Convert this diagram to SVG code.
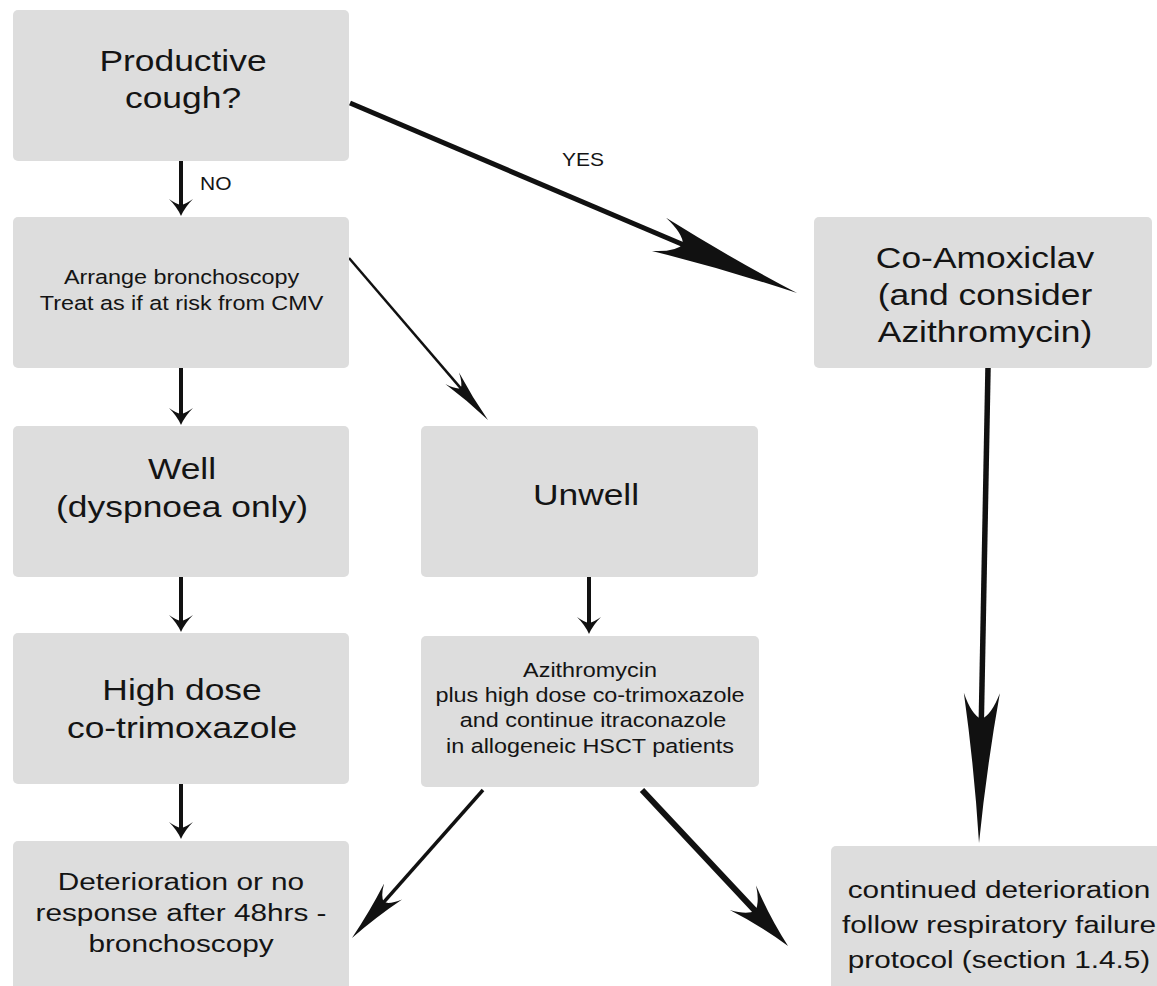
<svg xmlns="http://www.w3.org/2000/svg" width="1157" height="986" viewBox="0 0 1157 986">
<style>
.box{fill:#dddddd}
.t{font-family:"Liberation Sans",Arial,Helvetica,sans-serif;fill:#141414;text-anchor:middle}
.big{font-size:29.5px}
.med{font-size:24.8px}
.sm{font-size:19.5px}
.lbl{font-family:"Liberation Sans",Arial,Helvetica,sans-serif;fill:#141414;font-size:17.5px}
.c{stroke:#111;fill:none;stroke-linecap:butt}
.head{fill:#111}
</style>
<defs>
<marker id="m-small" markerUnits="userSpaceOnUse" orient="auto" refX="3" refY="0" markerWidth="30" markerHeight="30" overflow="visible">
<path class="head" d="M11,0 Q2,4 -6,12 Q-1,5 0,0 Q-1,-5 -6,-12 Q2,-4 11,0 Z"/>
</marker>
<marker id="m-long" markerUnits="userSpaceOnUse" orient="auto" refX="3" refY="0" markerWidth="160" markerHeight="40" overflow="visible">
<path class="head" d="M124,0 Q50,6 -26,18 Q-4,10 0,0 Q-4,-10 -26,-18 Q50,-6 124,0 Z"/>
</marker>
<marker id="m-medthick" markerUnits="userSpaceOnUse" orient="auto" refX="3" refY="0" markerWidth="80" markerHeight="40" overflow="visible">
<path class="head" d="M48,0 Q15,6 -18,18 Q-3,9 0,0 Q-3,-9 -18,-18 Q15,-6 48,0 Z"/>
</marker>
<marker id="m-medthin" markerUnits="userSpaceOnUse" orient="auto" refX="3" refY="0" markerWidth="80" markerHeight="30" overflow="visible">
<path class="head" d="M48,0 Q17,4 -14,12 Q-2,6 0,0 Q-2,-6 -14,-12 Q17,-4 48,0 Z"/>
</marker>
<marker id="m-thin" markerUnits="userSpaceOnUse" orient="auto" refX="3" refY="0" markerWidth="70" markerHeight="24" overflow="visible">
<path class="head" d="M42,0 Q14,3 -13,9 Q-2,4.5 0,0 Q-2,-4.5 -13,-9 Q14,-3 42,0 Z"/>
</marker>
</defs>
<rect width="1157" height="986" fill="#ffffff"/>

<g id="connectors">
<line class="c" x1="181" y1="161" x2="181" y2="208" stroke-width="4" marker-end="url(#m-small)"/>
<line class="c" x1="181" y1="368" x2="181" y2="417" stroke-width="4" marker-end="url(#m-small)"/>
<line class="c" x1="181" y1="577" x2="181" y2="624" stroke-width="4" marker-end="url(#m-small)"/>
<line class="c" x1="181" y1="784" x2="181" y2="831" stroke-width="4" marker-end="url(#m-small)"/>
<line class="c" x1="589" y1="577" x2="589" y2="626" stroke-width="4" marker-end="url(#m-small)"/>
<line class="c" x1="350" y1="103" x2="685.7" y2="245.7" stroke-width="5" marker-end="url(#m-long)"/>
<line class="c" x1="988" y1="368" x2="981.3" y2="722" stroke-width="5.5" marker-end="url(#m-long)"/>
<line class="c" x1="349" y1="258" x2="462.6" y2="390.4" stroke-width="2.5" marker-end="url(#m-thin)"/>
<line class="c" x1="483" y1="790" x2="381.8" y2="904.3" stroke-width="3.5" marker-end="url(#m-medthin)"/>
<line class="c" x1="642" y1="790" x2="757.3" y2="913.1" stroke-width="6" marker-end="url(#m-medthick)"/>
<text class="lbl" transform="matrix(1.2 0 0 1 200 0)" x="0" y="190">NO</text>
<text class="lbl" text-anchor="middle" transform="matrix(1.2 0 0 1 583 0)" x="0" y="166">YES</text>
</g>

<g id="n-productive">
<rect class="box" x="13" y="10" width="336" height="151" rx="5"/>
<text class="t big" transform="matrix(1.2 0 0 1 183 0)"><tspan x="0" y="71">Productive</tspan><tspan x="0" y="108">cough?</tspan></text>
</g>

<g id="n-arrange">
<rect class="box" x="13" y="217" width="336" height="151" rx="5"/>
<text class="t sm" transform="matrix(1.2 0 0 1 181.5 0)"><tspan x="0" y="284">Arrange bronchoscopy</tspan><tspan x="0" y="310">Treat as if at risk from CMV</tspan></text>
</g>

<g id="n-well">
<rect class="box" x="13" y="426" width="336" height="151" rx="5"/>
<text class="t big" transform="matrix(1.2 0 0 1 182 0)"><tspan x="0" y="479">Well</tspan><tspan x="0" y="517">(dyspnoea only)</tspan></text>
</g>

<g id="n-highdose">
<rect class="box" x="13" y="633" width="336" height="151" rx="5"/>
<text class="t big" transform="matrix(1.2 0 0 1 182 0)"><tspan x="0" y="700">High dose</tspan><tspan x="0" y="738">co-trimoxazole</tspan></text>
</g>

<g id="n-deterioration">
<rect class="box" x="13" y="841" width="336" height="160" rx="5"/>
<text class="t med" transform="matrix(1.2 0 0 1 181 0)"><tspan x="0" y="890">Deterioration or no</tspan><tspan x="0" y="921">response after 48hrs -</tspan><tspan x="0" y="952">bronchoscopy</tspan></text>
</g>

<g id="n-unwell">
<rect class="box" x="421" y="426" width="337" height="151" rx="5"/>
<text class="t big" transform="matrix(1.2 0 0 1 586 0)" x="0" y="505">Unwell</text>
</g>

<g id="n-azithro">
<rect class="box" x="421" y="636" width="338" height="151" rx="5"/>
<text class="t sm" transform="matrix(1.2 0 0 1 590 0)"><tspan x="0" y="677">Azithromycin</tspan><tspan x="0" y="702">plus high dose co-trimoxazole</tspan><tspan x="2.5" y="727">and continue itraconazole</tspan><tspan x="0" y="753">in allogeneic HSCT patients</tspan></text>
</g>

<g id="n-coamox">
<rect class="box" x="814" y="217" width="338" height="151" rx="5"/>
<text class="t big" transform="matrix(1.2 0 0 1 985 0)"><tspan x="0" y="268">Co-Amoxiclav</tspan><tspan x="0" y="305">(and consider</tspan><tspan x="0" y="342">Azithromycin)</tspan></text>
</g>

<g id="n-final">
<rect class="box" x="831" y="846" width="338" height="150" rx="5"/>
<text class="t med" transform="matrix(1.2 0 0 1 999 0)"><tspan x="0" y="898">continued deterioration</tspan><tspan x="0" y="933">follow respiratory failure</tspan><tspan x="0" y="968">protocol (section 1.4.5)</tspan></text>
</g>
</svg>
